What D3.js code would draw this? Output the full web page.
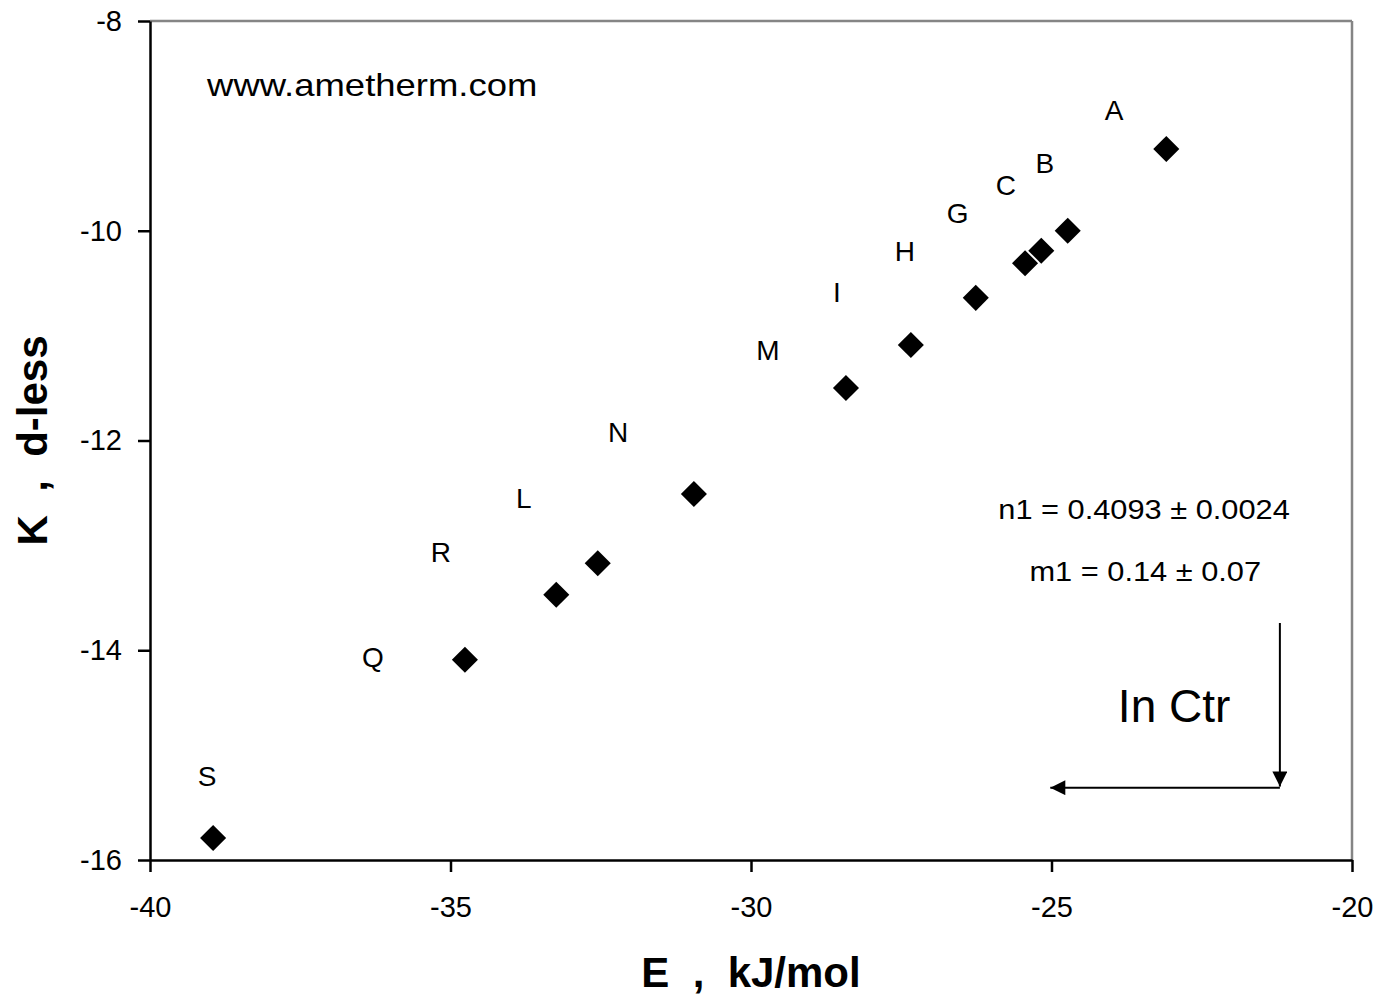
<!DOCTYPE html>
<html>
<head>
<meta charset="utf-8">
<script src="https://cdn.jsdelivr.net/npm/d3@7"></script>
<style>
  body { margin: 0; background: #fff; }
  text { font-family: "Liberation Sans", Arial, sans-serif; fill: #000; }
</style>
</head>
<body>
<div id="chart"></div>
<script>
// values
var names  = ["A", "B", "C", "G", "H", "I", "M", "N", "L", "R", "Q", "S"];
var energy = [-23.09, -24.73, -25.17, -25.44, -26.26, -27.34, -28.42, -30.95, -32.55, -33.24, -34.76, -38.95];
var kValue = [-9.22, -10.00, -10.19, -10.31, -10.64, -11.09, -11.50, -12.51, -13.17, -13.47, -14.09, -15.79];
// where each letter is written (data units)
var labelE = [-23.96, -25.11, -25.76, -26.56, -27.44, -28.57, -29.72, -32.21, -33.78, -35.16, -36.29, -39.05];
var labelK = [-8.85, -9.35, -9.56, -9.83, -10.19, -10.58, -11.14, -11.92, -12.55, -13.06, -14.06, -15.20];

var xTicks = [-40, -35, -30, -25, -20];
var yTicks = [-8, -10, -12, -14, -16];
var fitText = ["n1 = 0.4093 ± 0.0024", "m1 = 0.14 ± 0.07"];
var fitE = [-23.46, -23.44];
var fitK = [-12.75, -13.34];

var margin = { top: 21, right: 29, bottom: 137, left: 150 },
    width = 1381 - margin.left - margin.right,
    height = 997 - margin.top - margin.bottom;

var x = d3.scaleLinear().domain([-40, -20]).range([0, width]),
    y = d3.scaleLinear().domain([-16, -8]).range([height, 0]);

var root = d3.select("#chart")
  .append("svg")
    .attr("width", width + margin.left + margin.right)
    .attr("height", height + margin.top + margin.bottom);

var svg = root.append("g")
    .attr("transform", "translate(" + margin.left + "," + margin.top + ")");

// arrow heads
var defs = root.append("defs");
defs.append("marker")
    .attr("id", "head")
    .attr("viewBox", "0 0 10 10")
    .attr("refX", 10).attr("refY", 5)
    .attr("markerWidth", 16).attr("markerHeight", 15)
    .attr("markerUnits", "userSpaceOnUse")
    .attr("orient", "auto")
  .append("path")
    .attr("d", "M0,0L10,5L0,10Z")
    .attr("fill", "#000");

// grey top and right frame
svg.append("line")
    .attr("x1", 0).attr("x2", width).attr("y1", 0).attr("y2", 0)
    .attr("stroke", "#858585").attr("stroke-width", 2.5);
svg.append("line")
    .attr("x1", width).attr("x2", width).attr("y1", 0).attr("y2", height)
    .attr("stroke", "#858585").attr("stroke-width", 2.5);

// axes (plain hyphen minus like the original)
var plain = function(d) { return String(d); };

var xAxis = svg.append("g")
    .attr("transform", "translate(0," + height + ")")
    .call(d3.axisBottom(x).tickValues(xTicks).tickFormat(plain).tickSize(12).tickPadding(24).tickSizeOuter(0));

var yAxis = svg.append("g")
    .call(d3.axisLeft(y).tickValues(yTicks).tickFormat(plain).tickSize(12).tickPadding(16).tickSizeOuter(0));

[xAxis, yAxis].forEach(function(ax) {
  ax.select(".domain").attr("stroke", "#000").attr("stroke-width", 2.5);
  ax.selectAll(".tick line").attr("stroke", "#000").attr("stroke-width", 2.5);
  ax.selectAll(".tick text")
    .attr("font-size", "29px")
    .attr("font-family", "'Liberation Sans', Arial, sans-serif")
    .attr("fill", "#000");
});

// axis titles
svg.append("text")
    .attr("x", width / 2)
    .attr("y", height + 127)
    .attr("text-anchor", "middle")
    .attr("font-size", "42px")
    .attr("font-weight", "bold")
    .style("white-space", "pre")
    .text("E  ,  kJ/mol");

svg.append("text")
    .attr("transform", "translate(" + (47 - margin.left) + "," + (height / 2) + ") rotate(-90)")
    .attr("text-anchor", "middle")
    .attr("font-size", "42px")
    .attr("font-weight", "bold")
    .style("white-space", "pre")
    .text("K  ,  d-less");

// points
var pts = names.map(function(n, i) {
  return { name: n, e: energy[i], k: kValue[i], le: labelE[i], lk: labelK[i] };
});

svg.selectAll(".pt")
  .data(pts)
  .enter()
  .append("path")
    .attr("class", "pt")
    .attr("d", d3.symbol(d3.symbolSquare, 340))
    .attr("transform", function(d) { return "translate(" + x(d.e) + "," + y(d.k) + ") rotate(45)"; })
    .attr("fill", "#000");

svg.selectAll(".lbl")
  .data(pts)
  .enter()
  .append("text")
    .attr("class", "lbl")
    .attr("x", function(d) { return x(d.le); })
    .attr("y", function(d) { return y(d.lk); })
    .attr("dy", "0.36em")
    .attr("text-anchor", "middle")
    .attr("font-size", "28px")
    .text(function(d) { return d.name; });

// watermark, stretched a little wider like the original
svg.append("text")
    .attr("transform", "translate(" + x(-39.05) + "," + y(-8.715) + ") scale(1.14,1)")
    .attr("font-size", "32px")
    .text("www.ametherm.com");

// fit results
svg.selectAll(".fit")
  .data(fitText)
  .enter()
  .append("text")
    .attr("class", "fit")
    .attr("transform", function(d, i) { return "translate(" + x(fitE[i]) + "," + y(fitK[i]) + ") scale(1.14,1)"; })
    .attr("text-anchor", "middle")
    .attr("font-size", "27px")
    .text(function(d) { return d; });

// "In Ctr" marker with its two arrows
svg.append("text")
    .attr("x", x(-22.96))
    .attr("y", y(-14.68))
    .attr("text-anchor", "middle")
    .attr("font-size", "46px")
    .text("In Ctr");

svg.append("line")
    .attr("x1", x(-21.2)).attr("y1", y(-13.74))
    .attr("x2", x(-21.2)).attr("y2", y(-15.30))
    .attr("stroke", "#000").attr("stroke-width", 2)
    .attr("marker-end", "url(#head)");

svg.append("line")
    .attr("x1", x(-21.2)).attr("y1", y(-15.31))
    .attr("x2", x(-25.02)).attr("y2", y(-15.31))
    .attr("stroke", "#000").attr("stroke-width", 2)
    .attr("marker-end", "url(#head)");
</script>
</body>
</html>
